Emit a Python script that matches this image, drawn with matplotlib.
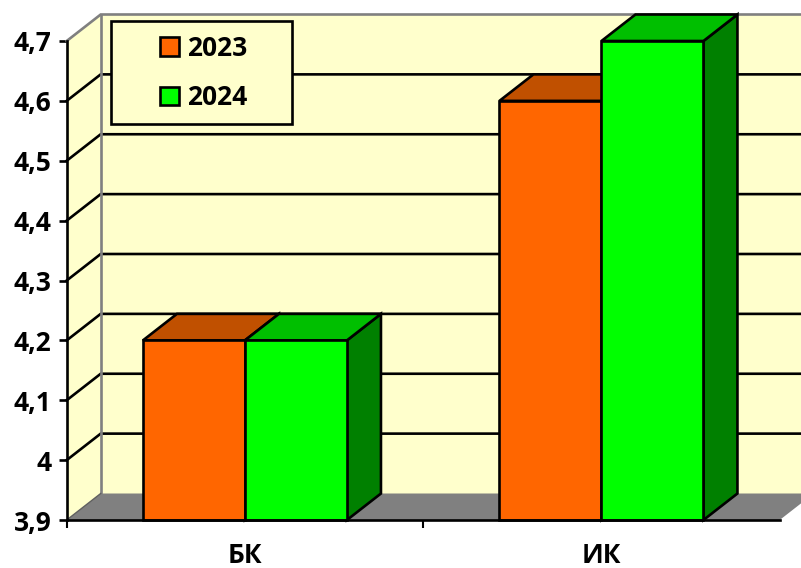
import matplotlib
matplotlib.use("Agg")
import matplotlib.pyplot as plt
from matplotlib.patches import Polygon, Patch, Rectangle

categories = ["БК", "ИК"]
series_names = ["2023", "2024"]
values_2023 = [4.2, 4.6]
values_2024 = [4.2, 4.7]
y_ticks = [3.9, 4.0, 4.1, 4.2, 4.3, 4.4, 4.5, 4.6, 4.7]
y_labels = ["3,9", "4", "4,1", "4,2", "4,3", "4,4", "4,5", "4,6", "4,7"]

W, H = 801, 568
plt.rcParams["font.family"] = ["Open Sans", "DejaVu Sans"]
plt.rcParams["font.weight"] = "bold"
FS = 19

fig = plt.figure(figsize=(W / 100, H / 100), dpi=100, facecolor="white")
ax = fig.add_axes([66.7 / W, (H - 520) / H, 713 / W, 479 / H])
ax.set_xlim(0, 2)
ax.set_ylim(3.9, 4.7)
ax.patch.set_visible(False)

# depth of the pseudo-3D projection, in data units
DX = 34 / 713 * 2
DY = 26.5 / 479 * 0.8
BAR_W = 102 / 713 * 2
y0, y1 = y_ticks[0], y_ticks[-1]
XR = 2 + DX

WALL = "#FFFFCC"
GREY = "#808080"
EDGE = "#000000"
LW = 1.9


def poly(points, face, edge=None, lw=0, z=1):
    ax.add_patch(Polygon(points, closed=True, facecolor=face,
                         edgecolor=edge if edge else face, linewidth=lw,
                         zorder=z, clip_on=False, joinstyle="miter"))


# walls and floor
poly([(DX, y0 + DY), (XR, y0 + DY), (XR, y1 + DY), (DX, y1 + DY)], WALL, z=1)
poly([(0, y0), (DX, y0 + DY), (DX, y1 + DY), (0, y1)], WALL, z=1)
poly([(0, y0), (DX, y0 + DY), (XR, y0 + DY), (2, y0)], GREY, z=1)

# gridlines along side wall and back wall
for t in y_ticks[1:-1]:
    ax.plot([0, DX, XR], [t, t + DY, t + DY], color="black", lw=LW, zorder=2,
            clip_on=False, solid_joinstyle="miter")
# wall outlines
ax.plot([0, DX, XR], [y1, y1 + DY, y1 + DY], color=GREY, lw=LW, zorder=2,
        clip_on=False, solid_joinstyle="miter")
ax.plot([DX, DX], [y0 + DY, y1 + DY], color=GREY, lw=LW, zorder=2, clip_on=False)
ax.plot([0, DX], [y0, y0 + DY], color="#606060", lw=1.0, zorder=2, clip_on=False)


def bar3d(xc, val, front, top, side, z):
    l, r = xc - BAR_W, xc
    poly([(r, y0), (r + DX, y0 + DY), (r + DX, val + DY), (r, val)], side, EDGE, LW, z)
    poly([(l, val), (l + DX, val + DY), (r + DX, val + DY), (r, val)], top, EDGE, LW, z)
    ax.bar([l], [val - y0], width=BAR_W, bottom=y0, align="edge", color=front,
           edgecolor=EDGE, linewidth=LW, zorder=z, clip_on=False)


centers = [0.5, 1.5]
for i, c in enumerate(centers):
    bar3d(c, values_2023[i], "#FF6600", "#C05000", "#804000", 3 + i)
    bar3d(c + BAR_W, values_2024[i], "#00FF00", "#00BF00", "#008000", 3 + i + 0.5)

# axes
for s in ("top", "right"):
    ax.spines[s].set_visible(False)
for s in ("left", "bottom"):
    ax.spines[s].set_linewidth(LW)
    ax.spines[s].set_zorder(6)
ax.set_yticks(y_ticks, y_labels, fontsize=FS, fontweight="bold")
ax.tick_params(axis="y", length=6, width=LW, pad=5)
ax.set_xticks([0, 1], ["", ""])
ax.tick_params(axis="x", which="major", length=6, width=1.5)
ax.set_xticks(centers, categories, minor=True, fontsize=FS, fontweight="bold")
ax.tick_params(axis="x", which="minor", length=0, pad=16)

# legend
ax.add_patch(Rectangle((111, H - 124), 181, 103, transform=None, facecolor=WALL,
                       edgecolor="black", linewidth=LW, zorder=4.8, clip_on=False))
handles = [Patch(facecolor="#FF6600", edgecolor="black", linewidth=LW),
           Patch(facecolor="#00FF00", edgecolor="black", linewidth=LW)]
leg = ax.legend(handles, series_names, loc="center left", frameon=False,
                bbox_to_anchor=(160 / W, (H - 73) / H), bbox_transform=fig.transFigure,
                borderaxespad=0, borderpad=0,
                handlelength=0.72, handleheight=0.72, handletextpad=0.3,
                labelspacing=0.85, prop={"size": FS, "weight": "bold"})
leg.set_zorder(5)

fig.savefig("out.png", dpi=100)
